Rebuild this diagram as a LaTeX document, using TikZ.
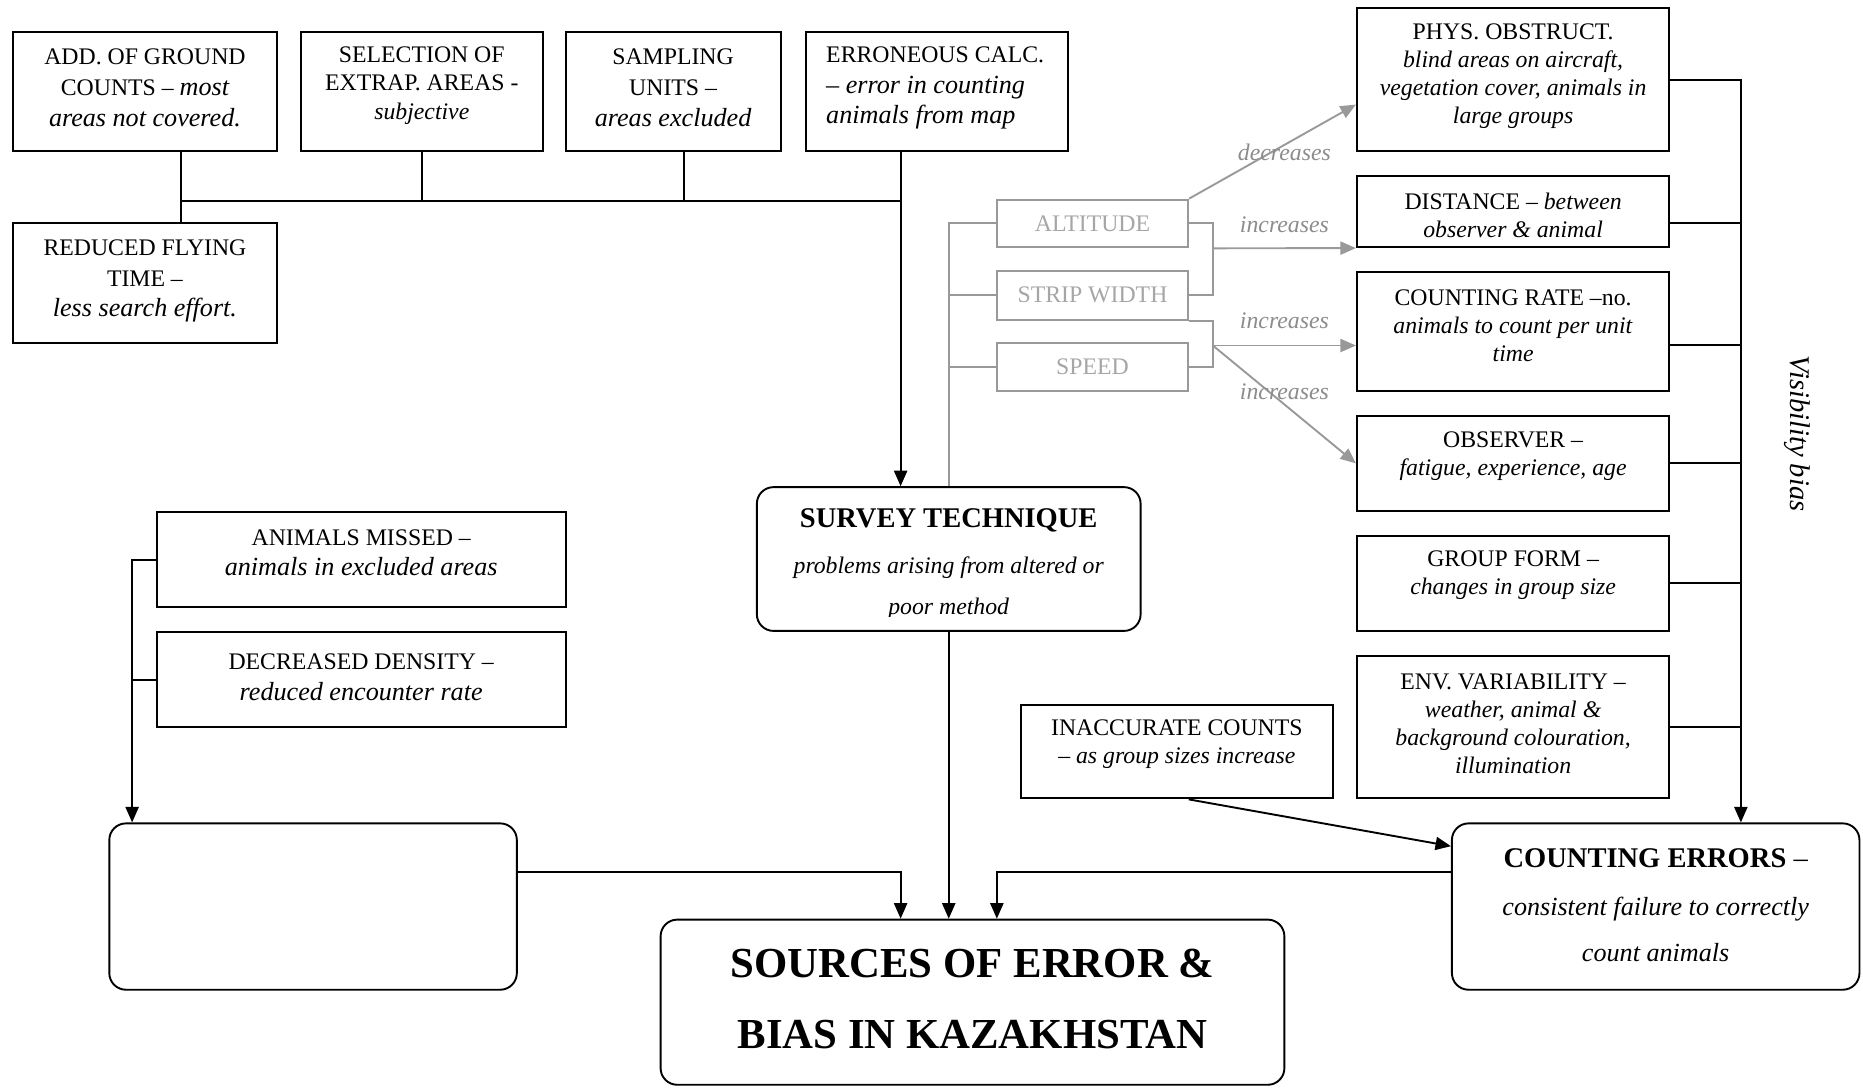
\documentclass[tikz,border=0pt]{standalone}
\usepackage{fontspec}
\setmainfont{Liberation Serif}
\usetikzlibrary{arrows.meta,calc}
\definecolor{gline}{HTML}{999999}
\definecolor{gtext}{HTML}{A6A6A6}
\definecolor{glbl}{HTML}{8C8C8C}
\newcommand\myitl[1]{{\fontsize{11}{13}\selectfont\itshape #1}}
\begin{document}
\begin{tikzpicture}[x=0.5pt,y=-0.5pt,
  box/.style={draw, line width=0.8pt, inner sep=0pt},
  rbox/.style={box, rounded corners=7pt},
  gbox/.style={draw=gline, line width=0.8pt, inner sep=0pt, text=gtext, font=\fontsize{10}{12}\selectfont},
  txt/.style={inner sep=0pt, align=center, font=\fontsize{10}{13}\selectfont},
  rtxt/.style={inner sep=0pt, align=center, font=\fontsize{10}{11.75}\selectfont},
  lbl/.style={inner sep=0pt, text=glbl, font=\itshape\fontsize{10}{12}\selectfont},
  conn/.style={line width=0.8pt},
  arr/.style={conn, -{Triangle[length=6.5pt,width=5.5pt]}},
  gconn/.style={line width=0.8pt, draw=gline},
  garr/.style={gconn, -{Triangle[length=6.5pt,width=5.5pt]}}]
\useasboundingbox (0,0) rectangle (1568,915);

% top-left boxes
\node[box, minimum width=111pt, minimum height=50pt] (add) at (122,77) {};
\node[txt] (addt) at (122,74) {ADD. OF GROUND\\COUNTS – \myitl{most}\\\myitl{areas not covered.}};
\node[box, minimum width=102pt, minimum height=50pt] (sel) at (355,77) {};
\node[txt, font=\fontsize{10}{12}\selectfont] (selt) at (355,72) {SELECTION OF\\EXTRAP. AREAS -\\\textit{subjective}};
\node[box, minimum width=90.5pt, minimum height=50pt] (samp) at (566.5,77) {};
\node[txt] (sampt) at (566.5,74) {SAMPLING\\UNITS –\\\myitl{areas excluded}};
\node[box, minimum width=110.5pt, minimum height=50pt] (err) at (788.5,77) {};
\node[txt, align=left, anchor=west] (errt) at (695,74) {ERRONEOUS CALC.\\\myitl{– error in counting}\\\myitl{animals from map}};
\node[box, minimum width=111pt, minimum height=50.5pt] (red) at (122,238.5) {};
\node[txt] (redt) at (122,236.5) {REDUCED FLYING\\TIME –\\\myitl{less search effort.}};

% survey technique
\node[rbox, minimum width=161.5pt, minimum height=60.5pt] (survey) at (798.5,470.5) {};
\node[inner sep=0pt, font=\bfseries\fontsize{12}{14}\selectfont] (st1) at (798.5,438) {SURVEY TECHNIQUE};
\begin{scope}
\clip (survey.north west) rectangle ($(survey.south east)+(0,-13)$);
\node[inner sep=0pt, align=center, font=\itshape\fontsize{10}{17.5}\selectfont] (st2) at (798.5,495) {problems arising from altered or\\poor method};
\end{scope}

% grey boxes
\node[gbox, minimum width=80.5pt, minimum height=20pt] (alt) at (919.5,188) {ALTITUDE};
\node[gbox, minimum width=80.5pt, minimum height=20.5pt] (strip) at (919.5,248.5) {STRIP WIDTH};
\node[gbox, minimum width=80.5pt, minimum height=20pt] (speed) at (919.5,309) {SPEED};

% right column
\node[box, minimum width=131.5pt, minimum height=60pt] (phys) at (1273.5,67) {};
\node[rtxt] (physt) at (1273.5,64) {PHYS. OBSTRUCT.\\\textit{blind areas on aircraft,}\\\textit{vegetation cover, animals in}\\\textit{large groups}};
\node[box, minimum width=131.5pt, minimum height=30pt] (dist) at (1273.5,178) {};
\node[rtxt] (distt) at (1273.5,181) {DISTANCE – \textit{between}\\\textit{observer \& animal}};
\node[box, minimum width=131.5pt, minimum height=50pt] (crate) at (1273.5,279) {};
\node[rtxt] (cratet) at (1273.5,274.5) {COUNTING RATE –no.\\\textit{animals to count per unit}\\\textit{time}};
\node[box, minimum width=131.5pt, minimum height=40pt] (obs) at (1273.5,390) {};
\node[rtxt, font=\fontsize{10}{12}\selectfont] (obst) at (1273.5,384) {OBSERVER –\\\textit{fatigue, experience, age}};
\node[box, minimum width=131.5pt, minimum height=40pt] (group) at (1273.5,491) {};
\node[rtxt, font=\fontsize{10}{12}\selectfont] (groupt) at (1273.5,484) {GROUP FORM –\\\textit{changes in group size}};
\node[box, minimum width=131.5pt, minimum height=60pt] (env) at (1273.5,612) {};
\node[rtxt] (envt) at (1273.5,609) {ENV. VARIABILITY –\\\textit{weather, animal \&}\\\textit{background colouration,}\\\textit{illumination}};

\node[inner sep=0pt, rotate=-90, font=\itshape\fontsize{12}{14}\selectfont] (vis) at (1513,365) {Visibility bias};

% inaccurate counts
\node[box, minimum width=131.5pt, minimum height=39.5pt] (inacc) at (990.5,632.5) {};
\node[rtxt, font=\fontsize{10}{12}\selectfont] (inacct) at (990.5,626.5) {INACCURATE COUNTS\\\textit{– as group sizes increase}};

% counting errors
\node[rbox, minimum width=171.5pt, minimum height=70pt] (cerr) at (1393.5,763) {};
\node[inner sep=0pt, font=\fontsize{12}{14}\selectfont] (ce1) at (1393.5,722) {\textbf{COUNTING ERRORS} –};
\node[inner sep=0pt, align=center, font=\itshape\fontsize{11}{19.5}\selectfont] (ce2) at (1393.5,782) {consistent failure to correctly\\count animals};

% left lower
\node[rbox, minimum width=171.5pt, minimum height=70pt] (empty) at (263.5,763) {};
\node[box, minimum width=172pt, minimum height=40pt] (am) at (304,471) {};
\node[txt, font=\fontsize{10}{12.5}\selectfont] (amt) at (304,465.5) {ANIMALS MISSED –\\\myitl{animals in excluded areas}};
\node[box, minimum width=172pt, minimum height=40pt] (dd) at (304,572) {};
\node[txt] (ddt) at (304,570) {DECREASED DENSITY –\\\myitl{reduced encounter rate}};

% sources
\node[rbox, minimum width=262.5pt, minimum height=69.5pt] (sources) at (818.5,843.5) {};
\node[inner sep=0pt, align=center, font=\bfseries\fontsize{18}{30}\selectfont] (srct) at (818.5,841) {SOURCES OF ERROR \&\\BIAS IN KAZAKHSTAN};

% top bus connectors
\coordinate (bx) at ($(err.south)+(-30.5,0)$);
\coordinate (busL) at ($(add.south)+(30,41)$);
\coordinate (busR) at ($(bx)+(0,41)$);
\draw[conn] (add.south -| busL) -- (red.north -| busL);
\draw[conn] (busL) -- (busR);
\draw[conn] (sel.south) -- (sel.south |- busL);
\coordinate (s1) at ($(samp.south)+(9.5,0)$);
\draw[conn] (s1) -- (s1 |- busL);
\draw[arr] (bx) -- (bx |- survey.north);

% grey connectors
\draw[gconn] (survey.north) |- (alt.west);
\draw[gconn] (strip.west) -- (strip.west -| survey.north);
\draw[gconn] (speed.west) -- (speed.west -| survey.north);
\draw[gconn] (alt.east) -- ++(20,0) |- (strip.east);
\draw[garr] ($(alt.east)+(20,21)$) -- (dist.south west);
\draw[gconn] (strip.south east) -- ++(20,0) |- (speed.east);
\coordinate (b2) at ($(strip.south east)+(20,21)$);
\draw[garr] (b2) -- (b2 -| crate.west);
\draw[garr] (b2) -- (obs.west);
\draw[garr] (alt.north east) -- ($(phys.west)+(0,21)$);
\node[lbl] (l1) at (1081,128) {decreases};
\node[lbl] (l2) at (1081,189) {increases};
\node[lbl] (l3) at (1081,270) {increases};
\node[lbl] (l4) at (1081,330) {increases};

% right vertical
\coordinate (rx) at ($(cerr.north west)+(244,0)$);
\draw[arr] (phys.east) -| (rx);
\coordinate (d1) at ($(dist.east)+(0,10)$);
\draw[conn] (d1) -- (d1 -| rx);
\coordinate (c1) at ($(crate.east)+(0,11)$);
\draw[conn] (c1) -- (c1 -| rx);
\draw[conn] (obs.east) -- (obs.east -| rx);
\draw[conn] (group.east) -- (group.east -| rx);
\draw[conn] (env.east) -- (env.east -| rx);

% inaccurate -> counting errors
\draw[arr] ($(inacc.south)+(10,0)$) -- ($(cerr.north west)+(0,20)$);

% left vertical
\coordinate (lx) at ($(empty.north west)+(20,0)$);
\draw[arr] (am.west) -| (lx);
\draw[conn] (dd.west) -- (dd.west -| lx);

% into sources
\draw[arr] ($(empty.east)+(0,-29)$) -| ($(sources.north)+(-60.5,0)$);
\draw[arr] (survey.south) -- (survey.south |- sources.north);
\draw[arr] ($(cerr.west)+(0,-29)$) -| ($(sources.north)+(20.5,0)$);
\end{tikzpicture}
\end{document}
